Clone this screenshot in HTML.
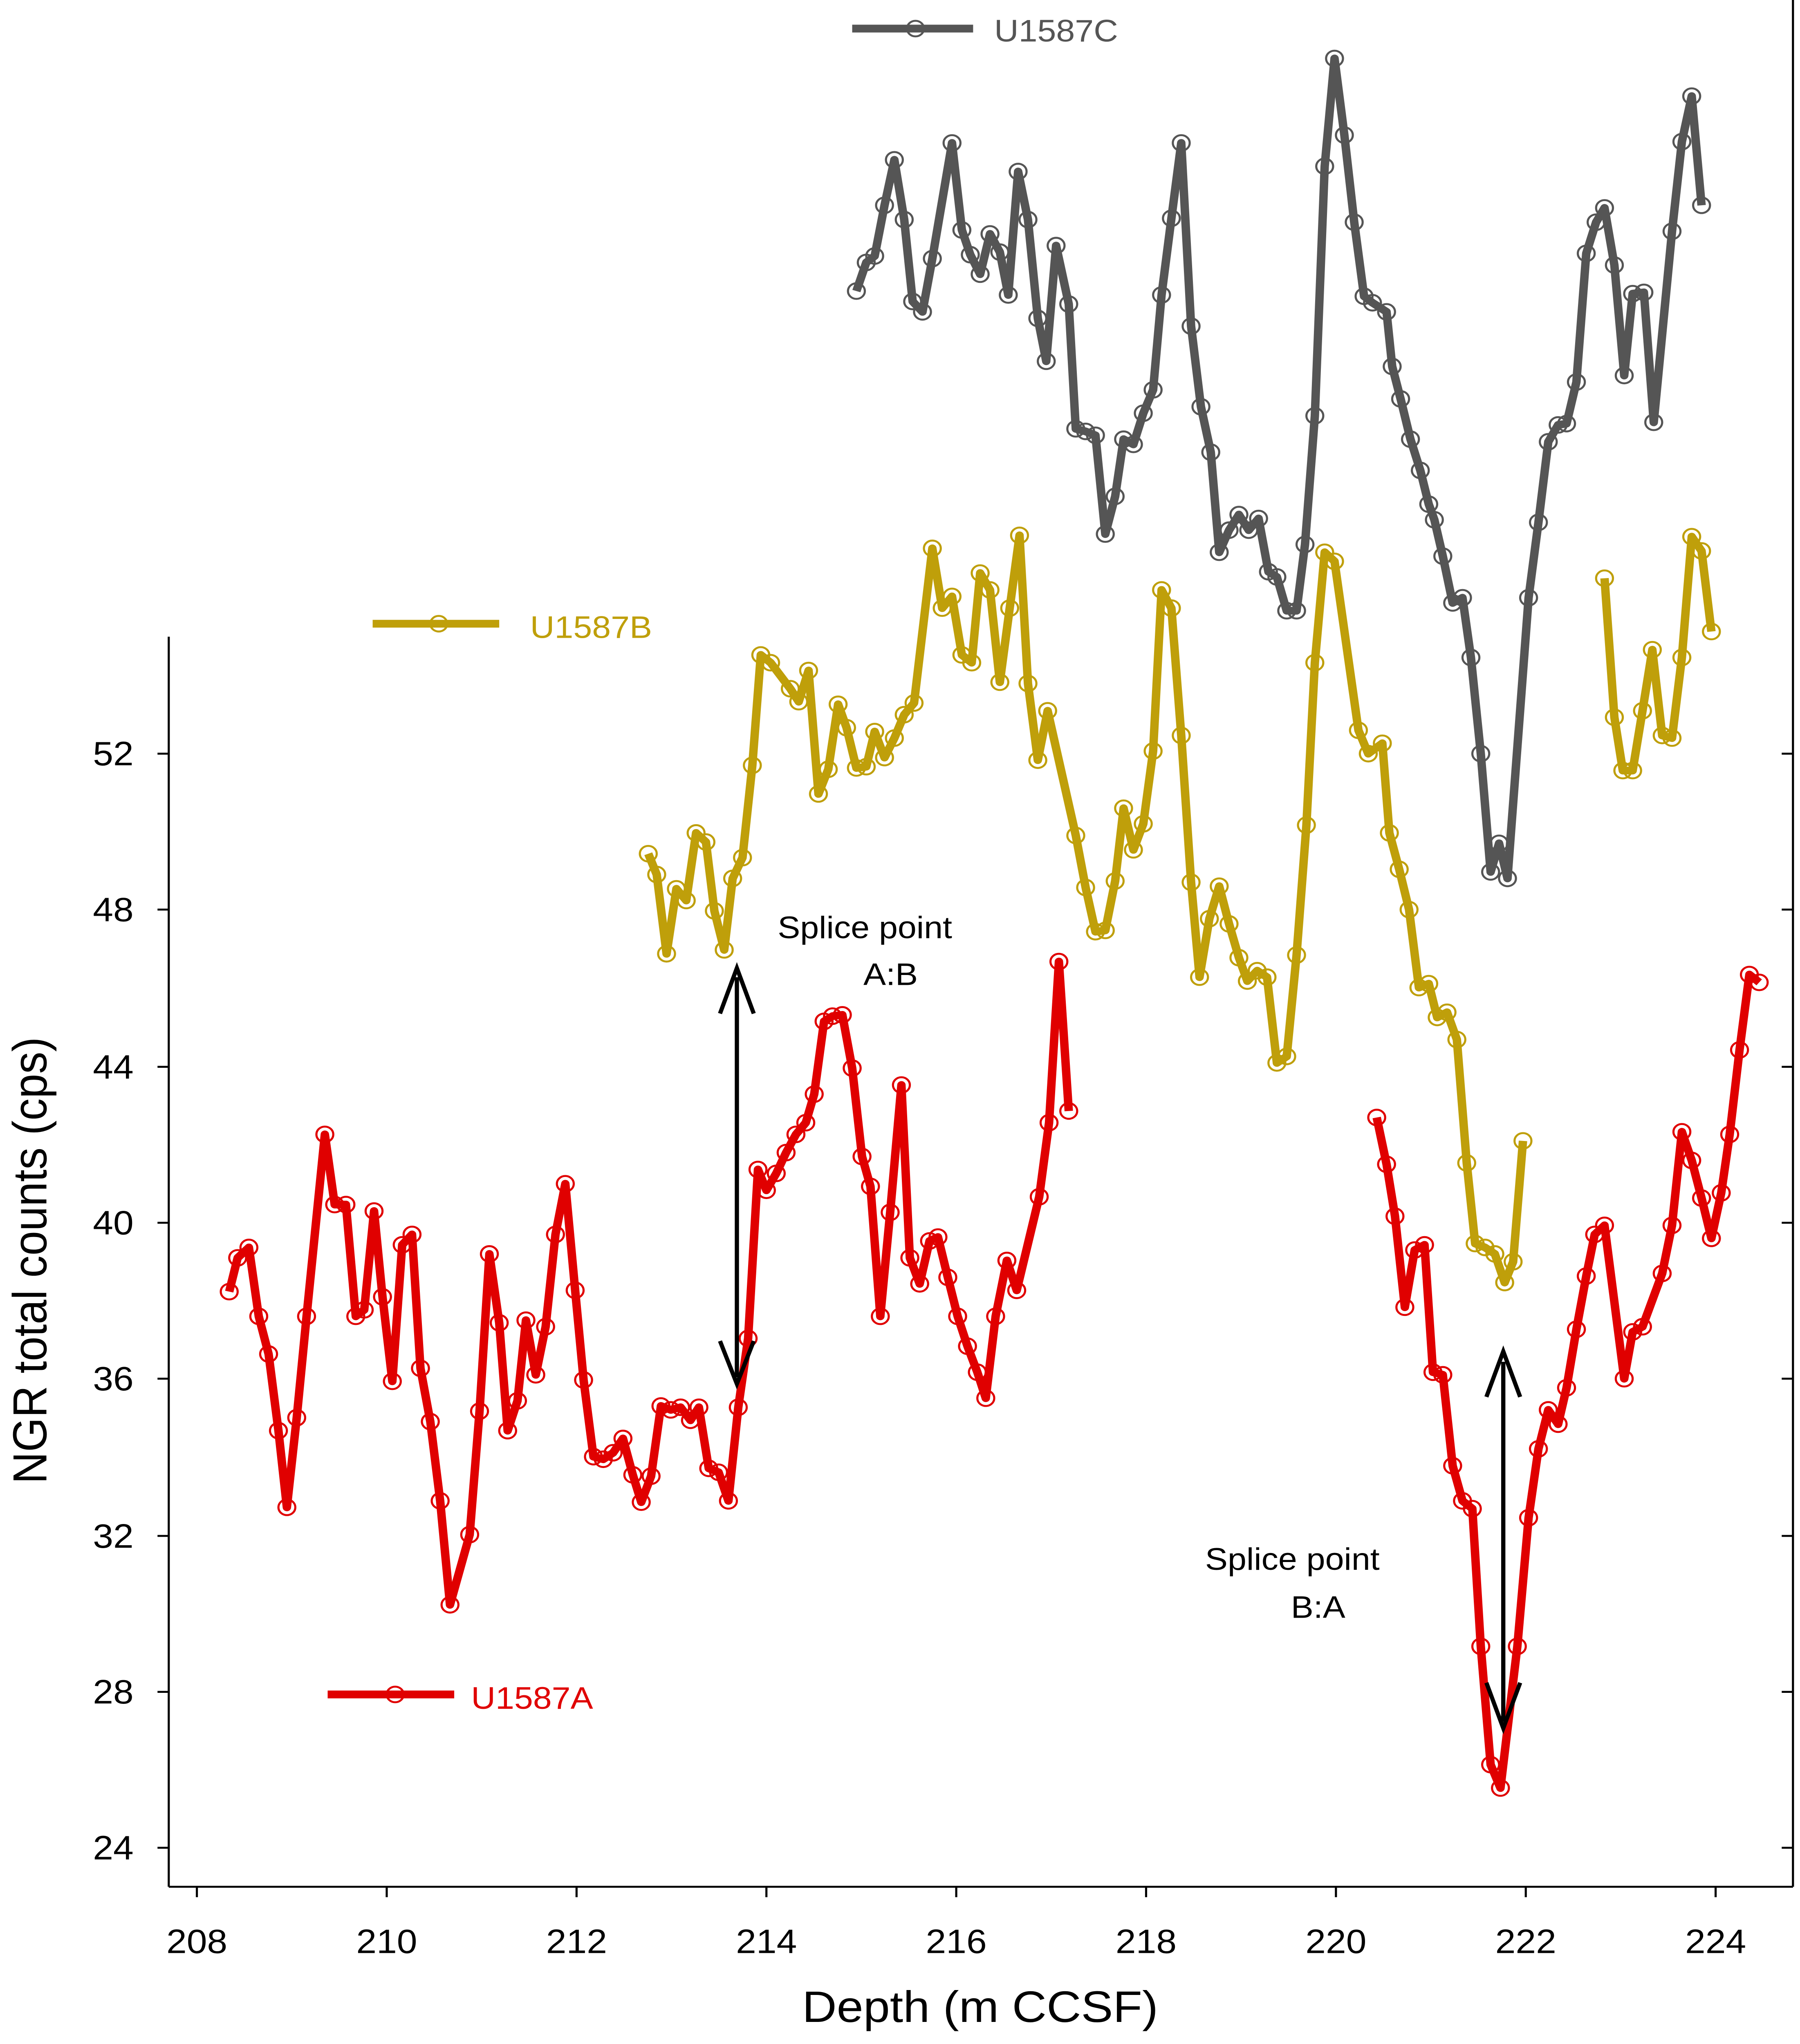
<!DOCTYPE html>
<html><head><meta charset="utf-8"><style>html,body{margin:0;padding:0;background:#fff;overflow:hidden;width:100vw;height:100vh}svg{display:block;position:fixed;left:0;top:0;width:100vw;height:100vh}</style></head>
<body>
<svg xmlns="http://www.w3.org/2000/svg" viewBox="0 0 1280 1573" preserveAspectRatio="none" font-family="Liberation Sans, sans-serif">
<defs>
<marker id="mg" markerUnits="userSpaceOnUse" markerWidth="16" markerHeight="16" refX="8" refY="8" overflow="visible"><circle cx="8" cy="8" r="6" fill="none" stroke="#555" stroke-width="1.5"/></marker>
<marker id="my" markerUnits="userSpaceOnUse" markerWidth="16" markerHeight="16" refX="8" refY="8" overflow="visible"><circle cx="8" cy="8" r="6" fill="none" stroke="#bf9f0a" stroke-width="1.5"/></marker>
<marker id="mr" markerUnits="userSpaceOnUse" markerWidth="16" markerHeight="16" refX="8" refY="8" overflow="visible"><circle cx="8" cy="8" r="6" fill="none" stroke="#e00000" stroke-width="1.5"/></marker>
</defs>
<rect width="1280" height="1573" fill="#fff"/>
<g stroke="#000" stroke-width="1.5" fill="none">
<line x1="120" y1="490" x2="120" y2="1452"/>
<line x1="120" y1="1452" x2="1275" y2="1452"/>
<line x1="1275" y1="0" x2="1275" y2="1452"/>
<path d="M112 580H120M112 700H120M112 821H120M112 941H120M112 1061H120M112 1182H120M112 1302H120M112 1422H120"/>
<path d="M1267 580H1275M1267 700H1275M1267 821H1275M1267 941H1275M1267 1061H1275M1267 1182H1275M1267 1302H1275M1267 1422H1275"/>
<path d="M140 1452V1460M275 1452V1460M410 1452V1460M545 1452V1460M680 1452V1460M815 1452V1460M950 1452V1460M1085 1452V1460M1220 1452V1460"/>
</g>
<g font-size="26" text-anchor="end" fill="#000">
<text x="95" y="589">52</text><text x="95" y="709">48</text><text x="95" y="830">44</text><text x="95" y="950">40</text><text x="95" y="1070">36</text><text x="95" y="1191">32</text><text x="95" y="1311">28</text><text x="95" y="1431">24</text>
</g>
<g font-size="26" text-anchor="middle" fill="#000">
<text x="140" y="1503">208</text><text x="275" y="1503">210</text><text x="410" y="1503">212</text><text x="545" y="1503">214</text><text x="680" y="1503">216</text><text x="815" y="1503">218</text><text x="950" y="1503">220</text><text x="1085" y="1503">222</text><text x="1220" y="1503">224</text>
</g>
<text x="697" y="1556" font-size="34" text-anchor="middle">Depth (m CCSF)</text>
<text transform="translate(33,970) rotate(-90)" font-size="34" text-anchor="middle">NGR total counts (cps)</text>

<g fill="none" stroke-linejoin="round" stroke-width="6">
<polyline stroke="#555" marker-start="url(#mg)" marker-mid="url(#mg)" marker-end="url(#mg)" points="609,224 616,202 622,197 629,158 636,123 643,169 649,232 656,240 663,199 677,110 684,177 690,196 697,211 704,180 711,194 717,227 724,132 731,169 738,245 744,278 751,189 760,234 765,330 772,332 779,335 786,411 793,382 799,338 806,342 813,318 820,300 826,227 833,168 840,110 847,251 854,313 861,348 867,425 874,408 881,396 888,408 895,399 902,440 908,444 915,470 922,470 928,419 935,320 942,128 949,45 956,104 963,171 970,228 976,233 986,240 990,282 996,307 1003,338 1010,362 1016,388 1020,400 1026,428 1033,464 1040,460 1046,506 1053,580 1060,671 1066,649 1072,676 1087,460 1094,402 1101,340 1108,327 1114,326 1121,294 1128,195 1135,171 1141,160 1148,204 1155,289 1161,226 1169,225 1176,325 1189,178 1196,109 1203,74 1210,158"/>
<polyline stroke="#bf9f0a" marker-start="url(#my)" marker-mid="url(#my)" marker-end="url(#my)" points="461,657 467,673 474,734 481,684 488,693 495,641 502,648 508,701 515,731 521,676 528,660 535,589 541,504 548,510 562,530 568,540 575,516 582,611 589,592 596,542 602,560 609,591 616,590 622,563 629,583 636,568 643,550 650,541 663,422 670,468 677,459 684,504 691,510 697,441 704,454 711,525 718,468 725,412 731,526 738,585 745,547 765,643 772,683 779,717 786,716 793,678 799,622 806,654 813,634 820,578 826,454 833,468 840,566 847,679 853,752 860,707 867,682 874,711 881,737 887,755 894,747 901,752 908,818 915,813 922,735 929,635 935,510 942,425 949,432 966,562 973,580 983,572 988,641 995,669 1002,700 1009,760 1016,757 1022,783 1029,779 1036,800 1043,895 1049,957 1056,960 1063,965 1070,987 1076,971 1083,878"/>
<polyline stroke="#bf9f0a" marker-start="url(#my)" marker-mid="url(#my)" marker-end="url(#my)" points="1141,445 1148,552 1154,593 1161,593 1168,547 1175,500 1182,566 1189,568 1196,506 1203,413 1210,424 1217,486"/>
<polyline stroke="#e00000" marker-start="url(#mr)" marker-mid="url(#mr)" marker-end="url(#mr)" points="163,994 169,968 177,960 184,1013 191,1042 198,1101 204,1160 211,1091 218,1013 231,873 238,927 246,927 253,1013 259,1008 266,932 272,998 279,1063 286,958 293,950 299,1053 306,1094 313,1155 320,1235 334,1181 341,1086 348,965 355,1018 361,1101 368,1078 374,1016 381,1058 388,1021 395,950 402,911 409,993 415,1062 422,1121 429,1123 436,1118 443,1107 450,1135 456,1156 463,1136 470,1082 477,1085 484,1083 491,1093 497,1083 504,1130 511,1133 518,1155 525,1083 532,1030 539,900 545,916 552,903 559,887 566,873 573,864 579,842 586,786 592,782 599,781 606,822 613,890 619,913 626,1013 633,933 641,835 647,968 654,988 661,955 667,952 674,983 681,1013 688,1036 695,1056 701,1076 708,1013 716,970 723,993 739,921 746,864 753,740 760,855"/>
<polyline stroke="#e00000" marker-start="url(#mr)" marker-mid="url(#mr)" marker-end="url(#mr)" points="979,860 986,896 992,936 999,1006 1006,962 1013,958 1019,1056 1026,1058 1033,1128 1040,1155 1047,1161 1053,1267 1060,1358 1067,1376 1079,1267 1087,1168 1094,1115 1101,1085 1108,1096 1114,1068 1121,1023 1128,982 1134,950 1141,943 1155,1061 1161,1025 1168,1021 1182,980 1189,943 1196,871 1203,893 1210,922 1217,953 1224,918 1230,873 1237,808 1244,750 1251,756"/>
<line x1="606" y1="22" x2="692" y2="22" stroke="#555"/>
<line x1="265" y1="480" x2="355" y2="480" stroke="#bf9f0a"/>
<line x1="233" y1="1304" x2="323" y2="1304" stroke="#e00000"/>
</g>
<g font-size="24">
<text x="707" y="32" fill="#555">U1587C</text>
<text x="377" y="491" fill="#bf9f0a">U1587B</text>
<text x="335" y="1315" fill="#e00000">U1587A</text>
</g>
<g fill="none" stroke-width="1.5">
<circle cx="651" cy="22" r="6" stroke="#555"/>
<circle cx="312" cy="480" r="6" stroke="#bf9f0a"/>
<circle cx="281" cy="1304" r="6" stroke="#e00000"/>
</g>
<g stroke="#000" stroke-width="3" fill="none">
<line x1="524" y1="752" x2="524" y2="1060"/>
<polyline points="512,780 524,745 536,780"/>
<polyline points="512,1032 524,1065 536,1032"/>
<line x1="1069" y1="1048" x2="1069" y2="1325"/>
<polyline points="1057,1075 1069,1040 1081,1075"/>
<polyline points="1057,1295 1069,1330 1081,1295"/>
</g>
<g font-size="24" fill="#000">
<text x="553" y="722">Splice point</text><text x="614" y="758">A:B</text>
<text x="857" y="1208">Splice point</text><text x="918" y="1245">B:A</text>
</g>
</svg>
</body></html>
